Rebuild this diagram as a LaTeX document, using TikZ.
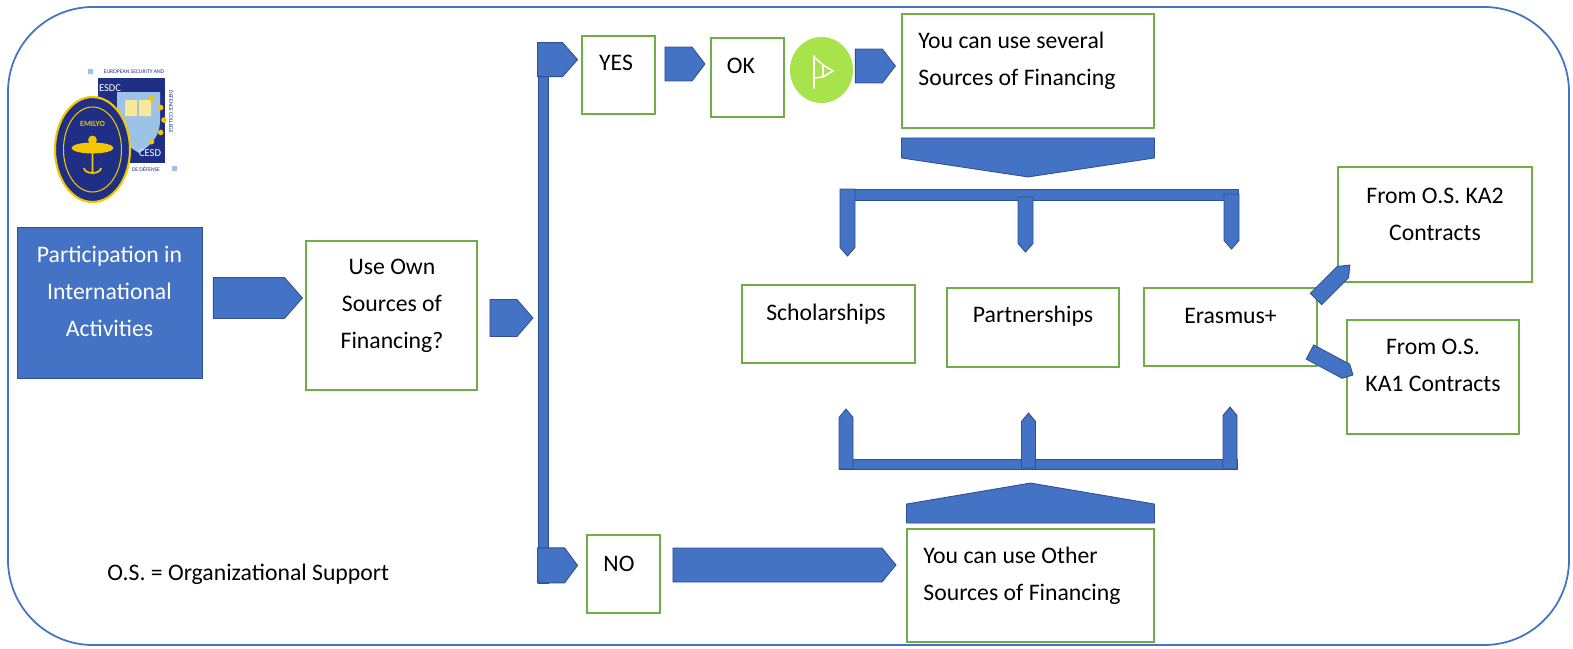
\documentclass[tikz,border=0pt]{standalone}
\usepackage{fontspec}
\setmainfont{Carlito}
\usetikzlibrary{calc,shapes.geometric}
\definecolor{azul}{HTML}{4472C4}
\definecolor{azulesc}{HTML}{2F528F}
\definecolor{azulclaro}{HTML}{9CC3E6}
\definecolor{verde}{HTML}{70AD47}
\definecolor{verdeclaro}{HTML}{A9E34B}
\definecolor{marinho}{HTML}{1F2F86}
\definecolor{ouro}{HTML}{F2C600}

% seta em bloco: de #1 para #2, meia largura #3, ponta #4
\newcommand{\seta}[4]{%
  \filldraw[bloco] let \p1=#1, \p2=#2, \n1={atan2(\y2-\y1,\x2-\x1)} in
    ($(\p1)+(\n1+90:#3)$) -- ($(\p2)+(\n1+180:#4)+(\n1+90:#3)$) -- (\p2)
    -- ($(\p2)+(\n1+180:#4)+(\n1-90:#3)$) -- ($(\p1)+(\n1-90:#3)$) -- cycle;}

\begin{document}
\begin{tikzpicture}[x=0.02cm,y=-0.02cm,
	bloco/.style={fill=azul,draw=azulesc,line width=0.5pt},
	caixa/.style={draw=verde,line width=1.1pt,fill=white,inner sep=0pt},
	texto/.style={font=\fontsize{13.5}{21}\selectfont,align=center,inner sep=0pt}]
		\useasboundingbox (0,0) rectangle (1573,649);
		% A moldura
			\draw[azul,line width=1pt,rounded corners=1.7cm] (8,7) rectangle (1569,645);

		% O logotipo
			\fill[white] (88,68) rectangle (178,173);
			\fill[azulclaro] (88,69) rectangle (93,74) (172,166) rectangle (177,171);
			\fill[marinho] (98,78) rectangle (165,163);
			\fill[azulclaro] (117,92) -- (160,92) -- (160,120) .. controls (160,140) and (146,148) .. (139,153)
				.. controls (131,148) and (117,140) .. (117,120) -- cycle;
			\fill[ouro!40!white] (125,100) rectangle (137,116) (139,100) rectangle (151,116);
			\foreach \ang in {-60,-30,0,30,60}
				{\fill[ouro] ($(139,120)+(\ang:0.5cm)$) circle (1.6pt);}
			\node[white,font=\fontsize{6}{6}\selectfont,inner sep=0pt] (esdc) at (110,88) {ESDC};
			\node[white,font=\fontsize{6}{6}\selectfont,inner sep=0pt] (cesd) at (150,153) {CESD};
			\node[marinho,font=\fontsize{3.2}{4}\selectfont,inner sep=0pt] (eusec) at (134,72) {EUROPEAN SECURITY AND};
			\node[marinho,font=\fontsize{3.2}{4}\selectfont,inner sep=0pt,rotate=-90] (defcol) at (171,112) {DEFENCE COLLEGE};
			\node[marinho,font=\fontsize{3.2}{4}\selectfont,inner sep=0pt] (defense) at (146,169) {DE DÉFENSE};
			\filldraw[fill=marinho,draw=ouro,line width=1.2pt] (92.5,149.5) ellipse (0.75cm and 1.05cm);
			\draw[ouro,line width=0.6pt] (92.5,149.5) ellipse (0.58cm and 0.85cm);
			\node[ouro,font=\bfseries\fontsize{4.5}{5}\selectfont,inner sep=0pt] (emilyo) at (92.5,124) {EMILYO};
			\fill[ouro] (92.5,148) ellipse (0.42cm and 0.11cm);
			\draw[ouro,line width=1pt] (92.5,136) -- (92.5,174) (84,168) arc (180:360:0.17cm and 0.1cm);
			\fill[ouro] (92.5,140) circle (2.5pt);

		% As caixas
			\node[bloco,minimum width=3.7cm,minimum height=3.02cm,inner sep=0pt] (part) at (109.5,302.5) {};
			\node[texto,white] (tpart) at ($(part.center)+(0,-11)$) {Participation in\\International\\Activities};
			\node[caixa,minimum width=3.42cm,minimum height=2.98cm] (own) at (391.5,315.5) {};
			\node[texto] (town) at ($(own.center)+(0.5,-10)$) {Use Own\\Sources of\\Financing?};
			\node[bloco,minimum width=0.2cm,minimum height=10.8cm,inner sep=0pt] (barra) at (543,313) {};
			\node[caixa,minimum width=1.46cm,minimum height=1.56cm] (yes) at (618.5,75) {};
			\node[texto] (tyes) at ($(yes.center)+(-2.5,-12)$) {YES};
			\node[caixa,minimum width=1.46cm,minimum height=1.58cm] (ok) at (747.5,77.5) {};
			\node[texto] (tok) at ($(ok.center)+(-6.5,-11.5)$) {OK};
			\node[ellipse,fill=verdeclaro,minimum width=1.26cm,minimum height=1.32cm,inner sep=0pt] (bandeira) at (821.5,70) {};
			\draw[white,line width=1.2pt,line cap=round] (814,56) -- (814,88);
			\draw[white,line width=0.9pt,line join=round] (814,57) -- (823,65) -- (833,71) -- (823,77) -- (814,78) (823,65) -- (823,77);
			\node[caixa,minimum width=5.04cm,minimum height=2.28cm] (several) at (1028,71) {};
			\node[texto,align=left,anchor=west] (tseveral) at ($(several.west)+(17,-10)$) {You can use several\\Sources of Financing};
			\node[caixa,minimum width=3.46cm,minimum height=1.56cm] (schol) at (828.5,324) {};
			\node[texto] (tschol) at ($(schol.center)+(-2.5,-10)$) {Scholarships};
			\node[caixa,minimum width=3.44cm,minimum height=1.58cm] (partner) at (1033,327.5) {};
			\node[texto] (tpartner) at ($(partner.center)+(0,-11.5)$) {Partnerships};
			\node[caixa,minimum width=3.46cm,minimum height=1.56cm] (erasmus) at (1230.5,327) {};
			\node[texto] (terasmus) at ($(erasmus.center)+(0,-11)$) {Erasmus+};
			\node[caixa,minimum width=3.88cm,minimum height=2.3cm] (ka2) at (1435,224.5) {};
			\node[texto] (tka2) at ($(ka2.center)+(0,-10.5)$) {From O.S. KA2\\Contracts};
			\node[caixa,minimum width=3.44cm,minimum height=2.28cm] (ka1) at (1433,377) {};
			\node[texto] (tka1) at ($(ka1.center)+(0,-11.5)$) {From O.S.\\KA1 Contracts};
			\node[caixa,minimum width=1.46cm,minimum height=1.56cm] (no) at (623.5,574) {};
			\node[texto] (tno) at ($(no.center)+(-4.5,-10)$) {NO};
			\node[caixa,minimum width=4.94cm,minimum height=2.26cm] (other) at (1030.5,585.5) {};
			\node[texto,align=left,anchor=west] (tother) at ($(other.west)+(17,-9.5)$) {You can use Other\\Sources of Financing};
			\node[texto,anchor=west] (nota) at (107,574) {O.S. = Organizational Support};

		% As setas
			\seta{($(part.east)+(11,-4.5)$)}{($(part.east)+(100,-4.5)$)}{0.41cm}{0.36cm}
			\seta{($(own.east)+(12,2.5)$)}{($(own.east)+(55,2.5)$)}{0.37cm}{0.32cm}
			\seta{($(barra.north west)+(0,17)$)}{($(barra.north west)+(40,17)$)}{0.34cm}{0.3cm}
			\seta{($(barra.south west)+(0,-18)$)}{($(barra.south west)+(40,-18)$)}{0.35cm}{0.26cm}
			\seta{($(yes.east)+(9,-11)$)}{($(yes.east)+(49,-11)$)}{0.34cm}{0.26cm}
			\seta{($(bandeira.east)+(2,-4)$)}{($(bandeira.east)+(42,-4)$)}{0.34cm}{0.26cm}
			\seta{($(no.east)+(12,-9)$)}{($(no.east)+(235,-9)$)}{0.34cm}{0.28cm}
			\seta{($(several.south)+(0,9)$)}{($(several.south)+(0,48)$)}{2.53cm}{0.38cm}
			\seta{($(other.north)+(0,-5)$)}{($(other.north)+(0,-45)$)}{2.48cm}{0.42cm}
			\seta{($(erasmus.east)+(-2,-28)$)}{($(erasmus.east)+(32,-62)$)}{0.16cm}{0.2cm}
			\seta{($(erasmus.east)+(-8,25)$)}{($(erasmus.east)+(35,48)$)}{0.16cm}{0.16cm}

		% Os colchetes
			\filldraw[bloco] (840,189) rectangle (1238,200);
			\foreach \cx/\ya/\yb in {847.5/189/256, 1025.5/197/252, 1231.5/194/249}
				{\seta{(\cx,\ya)}{(\cx,\yb)}{0.15cm}{0.17cm}}
			\filldraw[bloco] (839,459) rectangle (1237,469);
			\foreach \cx/\ya/\yb in {846/469/409, 1028.5/468/413, 1230/469/407}
				{\seta{(\cx,\ya)}{(\cx,\yb)}{0.14cm}{0.17cm}}
	\end{tikzpicture}
\end{document}
